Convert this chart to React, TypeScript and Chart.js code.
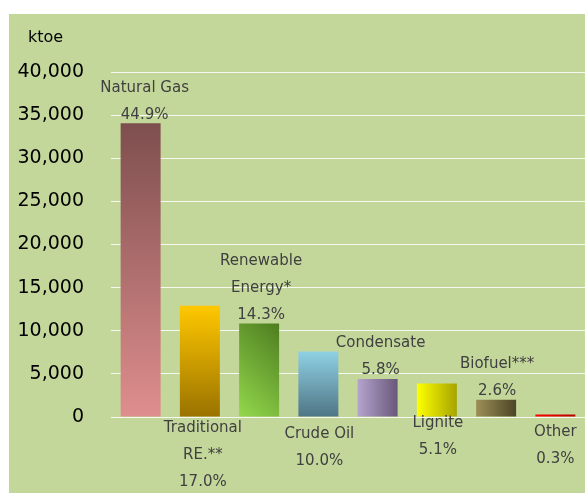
import React, { useEffect, useRef } from 'react';
import { Chart, registerables } from 'chart.js';

Chart.register(...registerables);

// ---- data ----
const categories: string[][] = [
  ['Natural Gas'],
  ['Traditional', 'RE.**'],
  ['Renewable', 'Energy*'],
  ['Crude Oil'],
  ['Condensate'],
  ['Lignite'],
  ['Biofuel***'],
  ['Other'],
];
const values: number[] = [34070, 12900, 10850, 7590, 4400, 3880, 2000, 300];
const shares: string[] = ['44.9%', '17.0%', '14.3%', '10.0%', '5.8%', '5.1%', '2.6%', '0.3%'];
const unitLabel = 'ktoe';
const yMax = 40000;
const yStep = 5000;

// ---- styles ----
const FONT = '"DejaVu Sans", sans-serif';
const BG = '#c4d79b';
const BAR_PCT = 0.675;
// gradient: dir 'v' (top->bottom), 'h' (left->right), 'd' (45deg bottom-left -> top-right)
const gradients: { dir: string; from: string; to: string }[] = [
  { dir: 'v', from: '#7e4e4e', to: '#df8e8e' },
  { dir: 'v', from: '#ffc800', to: '#9a7200' },
  { dir: 'd', from: '#93d84c', to: '#4e7d20' },
  { dir: 'v', from: '#8fd1e4', to: '#4e7585' },
  { dir: 'h', from: '#b4a3cd', to: '#6a587a' },
  { dir: 'h', from: '#ffff00', to: '#a6a400' },
  { dir: 'h', from: '#9c8f57', to: '#4c4526' },
  { dir: 'h', from: '#ff0000', to: '#b80000' },
];
const labelAbove = [true, false, true, false, true, false, true, false];
const labelDx = [4, 3, 2, 1, 3, 1, 1, 0];
const belowDy = [0, 11.5, 0, 17.5, 0, 6, 0, 15.5];
const LINE_H = 27;

function barFill(c: any) {
  const chart = c.chart;
  const i = c.dataIndex;
  const xs = chart.scales.x;
  const ys = chart.scales.y;
  const area = chart.chartArea;
  if (!xs || !ys || !area || i === undefined) return '#888888';
  const g = gradients[i];
  const cx = xs.getPixelForValue(i);
  const w = ((area.right - area.left) / values.length) * BAR_PCT;
  const left = cx - w / 2;
  const right = cx + w / 2;
  const top = ys.getPixelForValue(values[i]);
  const bottom = ys.getPixelForValue(0);
  const ctx = chart.ctx;
  let grad;
  if (g.dir === 'v') grad = ctx.createLinearGradient(0, top, 0, bottom);
  else if (g.dir === 'h') grad = ctx.createLinearGradient(left, 0, right, 0);
  else {
    const d = (right - left + (bottom - top)) / 2;
    grad = ctx.createLinearGradient(left, bottom, left + d, bottom - d);
  }
  grad.addColorStop(0, g.from);
  grad.addColorStop(1, g.to);
  return grad;
}

const labelPlugin = {
  id: 'barLabels',
  afterDatasetsDraw(chart: any) {
    const ctx = chart.ctx;
    const meta = chart.getDatasetMeta(0);
    const zeroY = chart.scales.y.getPixelForValue(0);
    ctx.save();
    ctx.font = `15px ${FONT}`;
    ctx.fillStyle = '#404040';
    ctx.textAlign = 'center';
    ctx.textBaseline = 'middle';
    meta.data.forEach((el: any, i: number) => {
      const lines = [...categories[i], shares[i]];
      const x = el.x + labelDx[i];
      if (labelAbove[i]) {
        const baseY = el.y - 8.5;
        lines.forEach((t, j) => {
          ctx.fillText(t, x, baseY - (lines.length - 1 - j) * LINE_H);
        });
      } else {
        const y0 = zeroY + belowDy[i];
        lines.forEach((t, j) => {
          ctx.fillText(t, x, y0 + j * LINE_H);
        });
      }
    });
    ctx.font = `16px ${FONT}`;
    ctx.fillStyle = '#000000';
    ctx.textAlign = 'left';
    ctx.fillText(unitLabel, 19, 24);
    ctx.restore();
  },
};

export default function App() {
  const ref = useRef<HTMLCanvasElement>(null);

  useEffect(() => {
    document.body.style.margin = '0';
    const canvas = ref.current;
    if (!canvas) return;
    const chart = new Chart(canvas, {
      type: 'bar',
      data: {
        labels: categories.map((c) => c.join(' ')),
        datasets: [
          {
            data: values,
            backgroundColor: barFill,
            borderWidth: 0,
            barPercentage: BAR_PCT,
            categoryPercentage: 1,
          },
        ],
      },
      options: {
        responsive: false,
        animation: false,
        devicePixelRatio: 1,
        layout: { padding: { left: 8, top: 58, right: 0, bottom: 76 } },
        plugins: {
          legend: { display: false },
          tooltip: { enabled: false },
        },
        scales: {
          x: { display: false },
          y: {
            min: 0,
            max: yMax,
            afterFit: (scale: any) => {
              scale.width = 94;
            },
            ticks: {
              stepSize: yStep,
              padding: 27,
              color: '#000000',
              font: { family: FONT, size: 19 },
              callback: (v: any) => Number(v).toLocaleString('en-US'),
            },
            grid: {
              color: 'rgba(255,255,255,0.85)',
              lineWidth: 1,
              drawTicks: false,
            },
            border: { display: false },
          },
        },
      },
      plugins: [labelPlugin],
    });
    return () => chart.destroy();
  }, []);

  return (
    <div style={{ width: 585, height: 493, background: '#ffffff', paddingTop: 14, paddingLeft: 9, boxSizing: 'border-box' }}>
      <canvas ref={ref} width={576} height={479} style={{ display: 'block', background: BG }} />
    </div>
  );
}
